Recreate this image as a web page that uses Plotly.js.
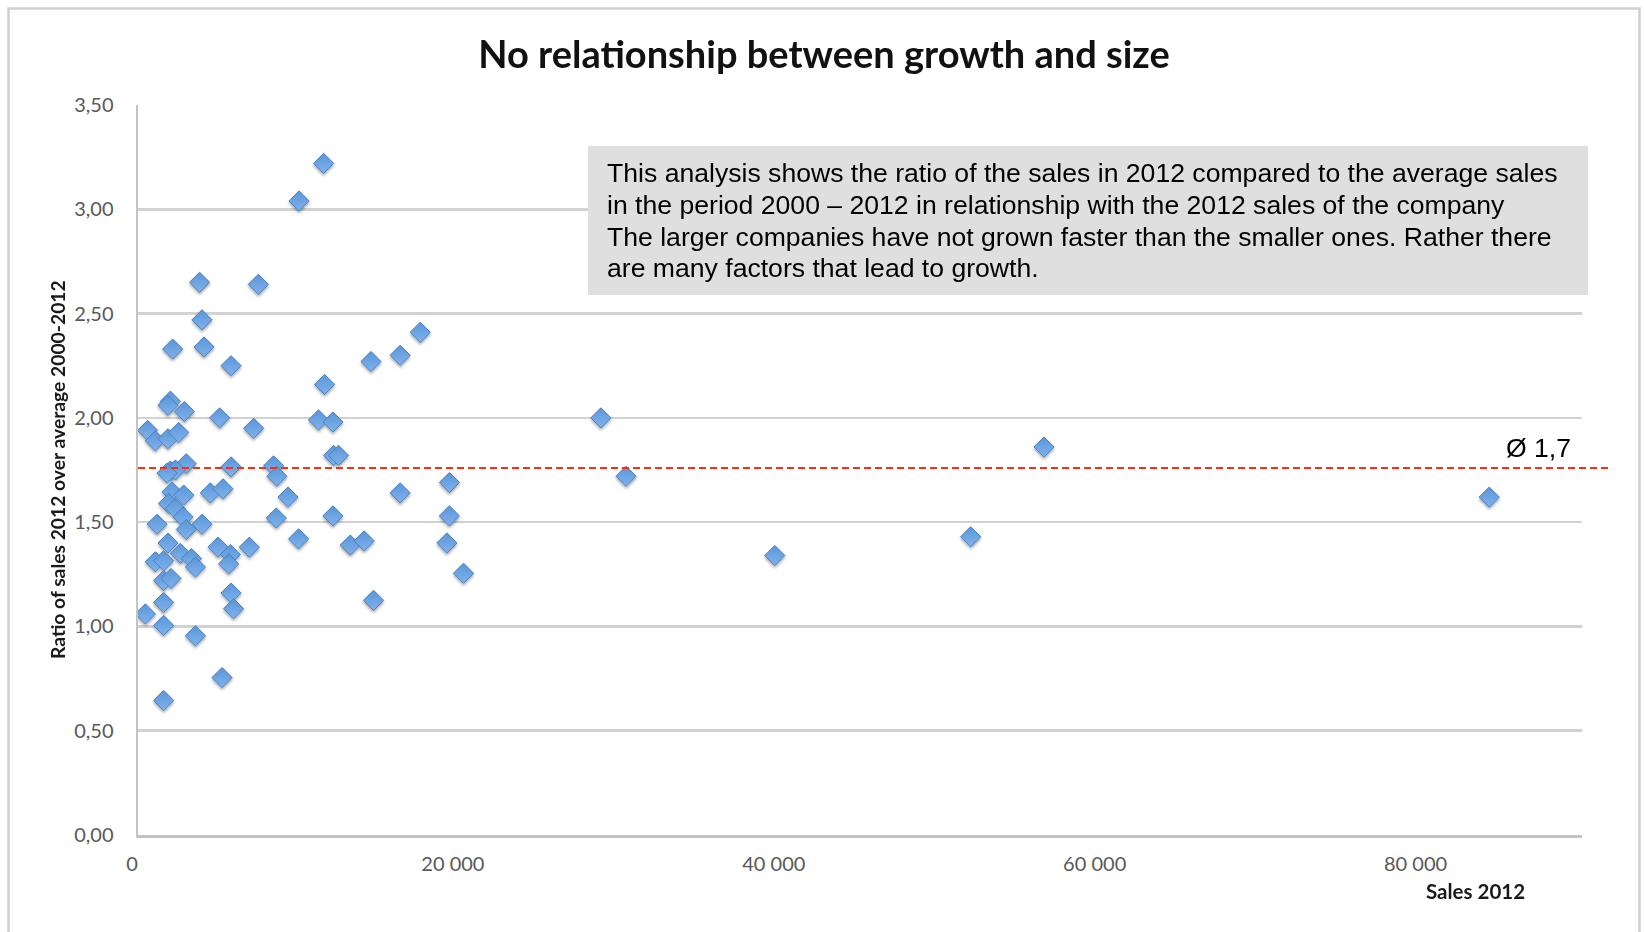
<!DOCTYPE html>
<html>
<head>
<meta charset="utf-8">
<script src="https://cdn.plot.ly/plotly-3.0.1.min.js"></script>
<style>
  html, body { margin: 0; padding: 0; background: #fff; }
  #chart { width: 1644px; height: 932px; }
</style>
</head>
<body>
<div id="chart"></div>
<script>
// Sales in 2012 per company
const sales2012 = [
  10040, 11570, 3840, 7500, 3990, 2160, 4120, 5800, 11630, 17590,
  16340, 14520, 2020, 1870, 2890, 5090, 7210, 11250, 12150, 600,
  1080, 1870, 2540, 12190, 12500, 3010, 2020, 2330, 1810, 5800,
  8450, 8660, 19410, 2120, 2850, 4510, 5300, 9350, 16340, 1910,
  2330, 2810, 1190, 3010, 3990, 8620, 12150, 19410, 10010, 1870,
  2640, 3330, 3580, 1080, 1600, 4990, 5760, 5650, 6940, 13230,
  14100, 19250, 20290, 1600, 2060, 1600, 460, 1600, 5800, 5960,
  3580, 5240, 1600, 14680, 28850, 30420, 39690, 51900, 56470, 84220
];

// Ratio of 2012 sales over the 2000-2012 average, same order
const salesRatio = [
  3.04, 3.22, 2.65, 2.64, 2.47, 2.33, 2.34, 2.25, 2.16, 2.41,
  2.30, 2.27, 2.08, 2.06, 2.03, 2.00, 1.95, 1.99, 1.98, 1.94,
  1.89, 1.90, 1.93, 1.82, 1.82, 1.78, 1.745, 1.75, 1.735, 1.765,
  1.77, 1.72, 1.69, 1.645, 1.63, 1.64, 1.66, 1.62, 1.64, 1.59,
  1.565, 1.525, 1.49, 1.465, 1.49, 1.52, 1.53, 1.53, 1.42, 1.40,
  1.35, 1.325, 1.285, 1.31, 1.315, 1.38, 1.345, 1.30, 1.38, 1.39,
  1.41, 1.40, 1.255, 1.22, 1.23, 1.115, 1.06, 1.005, 1.16, 1.085,
  0.955, 0.755, 0.645, 1.125, 2.00, 1.72, 1.34, 1.43, 1.86, 1.62
];

const xTickVals = [0, 20000, 40000, 60000, 80000];
const xTickText = ['0', '20 000', '40 000', '60 000', '80 000'];
const yTickVals = [0, 0.5, 1, 1.5, 2, 2.5, 3, 3.5];
const yTickText = ['0,00', '0,50', '1,00', '1,50', '2,00', '2,50', '3,00', '3,50'];

// Average reference line
const averageRatio = 1.76;
const averageLabel = '\u00D8 ' + (Math.floor(averageRatio * 10) / 10).toFixed(1).replace('.', ',');

const chartTitle = 'No relationship between growth and size';
const xTitle = 'Sales 2012';
const yTitle = 'Ratio of sales 2012 over average 2000-2012';
const noteLines = [
  'This analysis shows the ratio of the sales in 2012 compared to the average sales',
  'in the period 2000 \u2013 2012 in relationship with the 2012 sales of the company',
  'The larger companies have not grown faster than the smaller ones. Rather there',
  'are many factors that lead to growth.'
];

// Page geometry (pixels) and helpers to convert page pixels to paper coordinates
const W = 1644, H = 932;
const M = { l: 138, r: 62, t: 105, b: 97 };
const PW = W - M.l - M.r, PH = H - M.t - M.b;
const paperX = p => (p - M.l) / PW;
const paperY = p => (M.t + PH - p) / PH;

const calibriLike = 'Lato, "Open Sans", sans-serif';
const arialLike = '"Liberation Sans", Arial, sans-serif';

const trace = {
  type: 'scatter',
  mode: 'markers',
  x: sales2012,
  y: salesRatio,
  hoverinfo: 'x+y',
  marker: {
    symbol: 'diamond',
    size: 15.5,
    color: '#5a96d8',
    gradient: { type: 'vertical', color: '#80b2ec' },
    line: { color: '#4a7fc1', width: 1 }
  }
};

const noteTop = [173, 204.8, 236.6, 268.4];
const annotations = noteLines.map((t, i) => ({
  text: t, xref: 'paper', yref: 'paper',
  x: paperX(605), y: paperY(noteTop[i]),
  xanchor: 'left', yanchor: 'middle', showarrow: false,
  font: { family: arialLike, size: 26.6, color: '#000' }
}));

annotations.push({
  text: averageLabel, xref: 'paper', yref: 'y',
  x: paperX(1573), y: averageRatio, yshift: 20,
  xanchor: 'right', yanchor: 'middle', showarrow: false,
  font: { family: arialLike, size: 26.6, color: '#000' }
});

annotations.push({
  text: '<b>' + yTitle + '</b>', xref: 'paper', yref: 'paper',
  x: paperX(57), y: 0.5, textangle: -90,
  xanchor: 'center', yanchor: 'middle', showarrow: false,
  font: { family: calibriLike, size: 19.3, color: '#1a1a1a' }
});

annotations.push({
  text: '<b>' + xTitle + '</b>', xref: 'paper', yref: 'paper',
  x: paperX(1527), y: paperY(891),
  xanchor: 'right', yanchor: 'middle', showarrow: false,
  font: { family: calibriLike, size: 20.5, color: '#1a1a1a' }
});

const shapes = [
  // outer frame
  {
    type: 'rect', xref: 'paper', yref: 'paper', layer: 'below',
    x0: paperX(8.5), x1: paperX(1639.5), y0: paperY(950), y1: paperY(8.5),
    line: { color: '#cfcfcf', width: 2.5 }, fillcolor: 'rgba(0,0,0,0)'
  },
  // note box
  {
    type: 'rect', xref: 'paper', yref: 'paper', layer: 'above',
    x0: paperX(588), x1: paperX(1588), y0: paperY(295), y1: paperY(146),
    line: { width: 0 }, fillcolor: '#dfdfdf'
  },
  // average line
  {
    type: 'line', xref: 'paper', yref: 'y',
    x0: 0, x1: paperX(1608), y0: averageRatio, y1: averageRatio,
    line: { color: '#ff2d10', width: 2, dash: '7px,4px' }
  }
];

const layout = {
  width: W, height: H,
  margin: M,
  paper_bgcolor: '#ffffff',
  plot_bgcolor: '#ffffff',
  showlegend: false,
  title: {
    text: '<b>' + chartTitle + '</b>',
    xref: 'container', yref: 'container',
    x: 824 / W, y: 1 - 54.5 / H, xanchor: 'center', yanchor: 'middle',
    font: { family: calibriLike, size: 38, color: '#111' }
  },
  xaxis: {
    range: [0, 90000],
    tickvals: xTickVals, ticktext: xTickText,
    showgrid: false, zeroline: false,
    showline: true, linecolor: '#c4c4c4', linewidth: 2.5,
    ticks: '', ticklabelstandoff: 9, ticklabelshift: -6,
    tickfont: { family: calibriLike, size: 20, color: '#595959' },
    fixedrange: true
  },
  yaxis: {
    range: [0, 3.5],
    tickvals: yTickVals, ticktext: yTickText,
    showgrid: true, gridcolor: '#d2d2d2', gridwidth: 2.5,
    zeroline: false,
    showline: true, linecolor: '#c4c4c4', linewidth: 2.5,
    ticks: '', ticklabelstandoff: 18,
    tickfont: { family: calibriLike, size: 20, color: '#595959' },
    fixedrange: true
  },
  shapes: shapes,
  annotations: annotations
};

Plotly.newPlot('chart', [trace], layout, { displayModeBar: false, staticPlot: true }).then(gd => {
  // soft drop shadow under the markers
  const ns = 'http://www.w3.org/2000/svg';
  const svg = gd.querySelector('svg.main-svg');
  let defs = svg.querySelector('defs');
  if (!defs) { defs = document.createElementNS(ns, 'defs'); svg.insertBefore(defs, svg.firstChild); }
  const f = document.createElementNS(ns, 'filter');
  f.setAttribute('id', 'markerShadow');
  f.setAttribute('x', '-5%'); f.setAttribute('y', '-5%');
  f.setAttribute('width', '110%'); f.setAttribute('height', '110%');
  const ds = document.createElementNS(ns, 'feDropShadow');
  ds.setAttribute('dx', '0'); ds.setAttribute('dy', '2');
  ds.setAttribute('stdDeviation', '1.5');
  ds.setAttribute('flood-color', '#000'); ds.setAttribute('flood-opacity', '0.35');
  f.appendChild(ds);
  defs.appendChild(f);
  gd.querySelectorAll('.scatterlayer .trace').forEach(g => g.setAttribute('filter', 'url(#markerShadow)'));
});
</script>
</body>
</html>
